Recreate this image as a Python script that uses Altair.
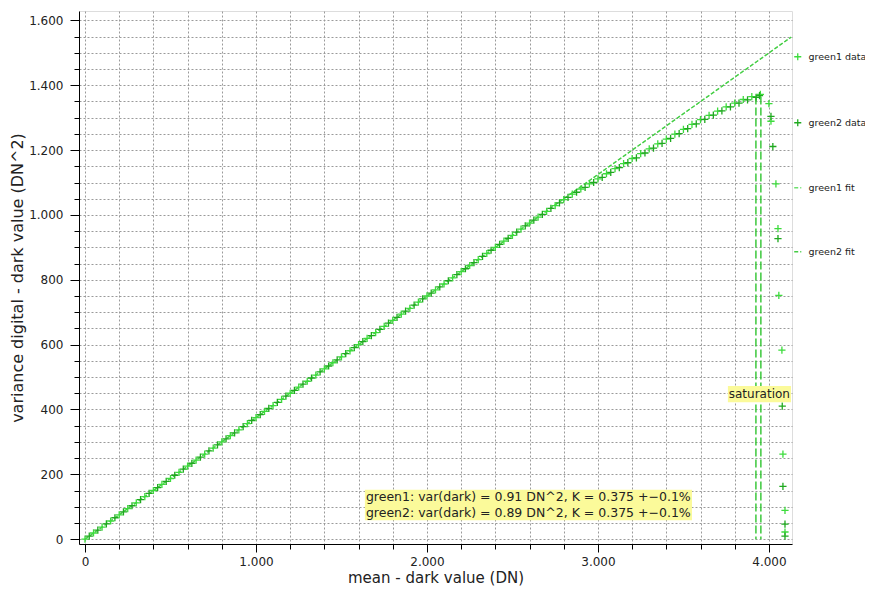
import altair as alt
import pandas as pd

TITLE = "Photon transfer no. 25, 550 nm, 30.07.2013"
X_TITLE = "mean - dark value (DN)"
Y_TITLE = "variance digital - dark value (DN^2)"
FONT = "DejaVu Sans"

series_names = ["green1 data", "green2 data", "green1 fit", "green2 fit"]
series_colors = ["#3ddc3d", "#1fa91f", "#6ee06e", "#44cc44"]
PLUS = "M-1,0L1,0M0,-1L0,1"

g1_mean = [0, 50, 100, 150, 200, 250, 300, 350, 400, 450, 500, 550, 600, 650, 700, 750,
           800, 850, 900, 950, 1000, 1050, 1100, 1150, 1200, 1250, 1300, 1350, 1400, 1450,
           1500, 1550, 1600, 1650, 1700, 1750, 1800, 1850, 1900, 1950, 2000, 2050, 2100,
           2150, 2200, 2250, 2300, 2350, 2400, 2450, 2500, 2550, 2600, 2650, 2700, 2750,
           2800, 2850, 2900, 2950, 3000, 3050, 3100, 3150, 3200, 3250, 3300, 3350, 3400,
           3450, 3500, 3550, 3600, 3650, 3700, 3750, 3800, 3850, 3900, 3950,
           4000, 4012, 4041, 4053, 4058, 4076, 4082, 4094, 4094]
g1_var = [0, 19, 37, 56, 75, 94, 112, 131, 150, 169, 187, 206, 225, 244, 262, 281,
          300, 319, 337, 356, 375, 394, 412, 431, 450, 469, 487, 506, 525, 544,
          562, 581, 600, 619, 637, 656, 675, 694, 712, 731, 750, 769, 787,
          806, 825, 844, 862, 881, 900, 919, 937, 956, 975, 993, 1011, 1029,
          1047, 1064, 1080, 1096, 1111, 1127, 1143, 1158, 1174, 1189, 1204, 1219, 1234,
          1249, 1264, 1279, 1294, 1307, 1320, 1333, 1345, 1356, 1365, 1372,
          1343, 1289, 1096, 958, 752, 583, 262, 89, 22]

g2_mean = [25, 75, 125, 175, 225, 275, 325, 375, 425, 475, 525, 575, 625, 675, 725, 775,
           825, 875, 925, 975, 1025, 1075, 1125, 1175, 1225, 1275, 1325, 1375, 1425, 1475,
           1525, 1575, 1625, 1675, 1725, 1775, 1825, 1875, 1925, 1975, 2025, 2075, 2125,
           2175, 2225, 2275, 2325, 2375, 2425, 2475, 2525, 2575, 2625, 2675, 2725, 2775,
           2825, 2875, 2925, 2975, 3025, 3075, 3125, 3175, 3225, 3275, 3325, 3375, 3425,
           3475, 3525, 3575, 3625, 3675, 3725, 3775, 3825, 3875, 3925, 3945,
           4012, 4023, 4053, 4078, 4082, 4094, 4094]
g2_var = [9, 28, 47, 66, 84, 103, 122, 141, 159, 178, 197, 216, 234, 253, 272, 291,
          309, 328, 347, 366, 384, 403, 422, 441, 459, 478, 497, 516, 534, 553,
          572, 591, 609, 628, 647, 666, 684, 703, 722, 741, 759, 778, 797,
          816, 834, 853, 872, 891, 909, 928, 947, 966, 984, 1002, 1020, 1037,
          1054, 1070, 1085, 1100, 1116, 1131, 1146, 1161, 1176, 1191, 1206, 1221, 1236,
          1251, 1266, 1281, 1295, 1308, 1321, 1333, 1345, 1355, 1363, 1368,
          1304, 1211, 927, 410, 163, 46, 9]

fit_mean = [0, 4130]
fit1_var = [0, 1549]
fit2_var = [0, 1548]

sat_mean = [3924, 3953]
sat_top = [1365, 1365]
sat_bottom = [0, 0]

ann_text = ["green1: var(dark) = 0.91 DN^2, K = 0.375 +\u22120.1%",
            "green2: var(dark) = 0.89 DN^2, K = 0.375 +\u22120.1%"]
ann_x = [1643, 1643]
ann_y = [130, 82]
box_x = [1637, 3760]
box_x2 = [3550, 4129]
box_y = [58, 422]
box_y2 = [152, 472]
sat_label = ["saturation"]
sat_label_x = [3944]
sat_label_y = [447]

X_DOMAIN = [-35, 4135]
Y_DOMAIN = [-15, 1629]

pts = pd.concat([
    pd.DataFrame({"mean": g1_mean, "var": g1_var, "series": "green1 data"}),
    pd.DataFrame({"mean": g2_mean, "var": g2_var, "series": "green2 data"}),
])
fits = pd.concat([
    pd.DataFrame({"mean": fit_mean, "var": fit1_var, "series": "green1 fit"}),
    pd.DataFrame({"mean": fit_mean, "var": fit2_var, "series": "green2 fit"}),
])
sat = pd.DataFrame({"mean": sat_mean, "top": sat_top, "bottom": sat_bottom})
boxes = pd.DataFrame({"x": box_x, "x2": box_x2, "y": box_y, "y2": box_y2})
ann = pd.DataFrame({"x": ann_x, "y": ann_y, "t": ann_text})
satl = pd.DataFrame({"x": sat_label_x, "y": sat_label_y, "t": sat_label})

x_scale = alt.Scale(domain=X_DOMAIN, nice=False, zero=False)
y_scale = alt.Scale(domain=Y_DOMAIN, nice=False, zero=False)

x_axis = alt.Axis(
    title=X_TITLE, values=list(range(0, 4001, 200)), tickCount=500,
    labelExpr="datum.value % 1000 === 0 ? replace(format(datum.value, ','), ',', '.') : ''",
    labelOverlap=False, labelFlush=False, grid=True,
    gridDash=[2, 2], gridColor="#9a9a9a", gridWidth=1,
    tickSize={"condition": {"test": "datum.value % 1000 === 0", "value": 8}, "value": 5},
    tickColor="black", domainColor="black", labelPadding=4, titlePadding=3,
    labelFont=FONT, labelFontSize=12, titleFont=FONT, titleFontSize=15,
    titleFontWeight="normal", labelColor="#222", titleColor="#222",
)
y_axis = alt.Axis(
    title=Y_TITLE, values=list(range(0, 1601, 50)), tickCount=500,
    labelExpr="datum.value % 200 === 0 ? replace(format(datum.value, ','), ',', '.') : ''",
    labelOverlap=False, labelFlush=False, grid=True,
    gridDash=[2, 2], gridColor="#9a9a9a", gridWidth=1,
    tickSize={"condition": {"test": "datum.value % 200 === 0", "value": 9}, "value": 5},
    tickColor="black", domainColor="black", labelPadding=7, titlePadding=3,
    labelFont=FONT, labelFontSize=12, titleFont=FONT, titleFontSize=16,
    titleFontWeight="normal", labelColor="#222", titleColor="#222",
)

legend = alt.Legend(orient="none", legendX=714, legendY=41, title=None,
                    labelFont=FONT, labelFontSize=9.5, labelColor="#222",
                    rowPadding=53, symbolSize=50, symbolStrokeWidth=1.3,
                    labelOffset=6)
color = alt.Color("series:N", scale=alt.Scale(domain=series_names, range=series_colors),
                  legend=legend)

fit_layer = alt.Chart(fits).mark_line(strokeWidth=1.2, clip=True).encode(
    x=alt.X("mean:Q", scale=x_scale, axis=x_axis),
    y=alt.Y("var:Q", scale=y_scale, axis=y_axis),
    color=color,
    strokeDash=alt.StrokeDash("series:N", scale=alt.Scale(
        domain=series_names, range=[[1, 0], [1, 0], [4, 2], [4, 2]]), legend=legend),
    detail="series:N",
)

sat_layer = alt.Chart(sat).mark_rule(color="#2fc42f", strokeWidth=1.4, strokeDash=[8, 3]).encode(
    x=alt.X("mean:Q", scale=x_scale, axis=x_axis),
    y=alt.Y("top:Q", scale=y_scale, axis=y_axis),
    y2="bottom:Q",
)

pt_layer = alt.Chart(pts).mark_point(filled=False, strokeWidth=1.3, size=52, opacity=1).encode(
    x=alt.X("mean:Q", scale=x_scale, axis=x_axis),
    y=alt.Y("var:Q", scale=y_scale, axis=y_axis),
    color=color,
    shape=alt.Shape("series:N", scale=alt.Scale(
        domain=series_names, range=[PLUS, PLUS, "stroke", "stroke"]), legend=legend),
)

box_layer = alt.Chart(boxes).mark_rect(color="#fbfa9a", opacity=1).encode(
    x=alt.X("x:Q", scale=x_scale, axis=x_axis), x2="x2:Q",
    y=alt.Y("y:Q", scale=y_scale, axis=y_axis), y2="y2:Q",
)

ann_layer = alt.Chart(ann).mark_text(align="left", baseline="middle", font=FONT,
                                     fontSize=12.5, color="#222").encode(
    x=alt.X("x:Q", scale=x_scale, axis=x_axis),
    y=alt.Y("y:Q", scale=y_scale, axis=y_axis), text="t:N")

satl_layer = alt.Chart(satl).mark_text(align="center", baseline="middle", font=FONT,
                                       fontSize=12, color="#222").encode(
    x=alt.X("x:Q", scale=x_scale, axis=x_axis),
    y=alt.Y("y:Q", scale=y_scale, axis=y_axis), text="t:N")

chart = alt.layer(fit_layer, sat_layer, pt_layer, box_layer, ann_layer, satl_layer).properties(
    width=713, height=533,
    title=alt.TitleParams(TITLE, font=FONT, fontSize=13, fontWeight="normal",
                          color="#222", anchor="middle", offset=1, dx=-15),
    autosize=alt.AutoSizeParams(type="none"),
    padding={"left": 71, "top": 3, "right": 73, "bottom": 43},
).configure_view(stroke="black", strokeWidth=1).configure(background="white")

chart.save("out.html", embed_options={"renderer": "svg", "actions": False})
